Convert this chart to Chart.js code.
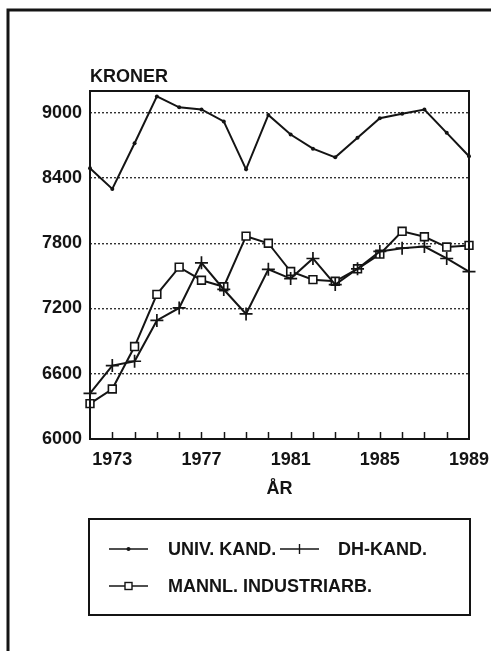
<!DOCTYPE html>
<html>
<head>
<meta charset="utf-8">
<script src="https://cdn.jsdelivr.net/npm/chart.js@4"></script>
<style>
  html, body { margin: 0; padding: 0; background: #ffffff; }
  canvas { display: block; }
</style>
</head>
<body>
<canvas id="c" width="491" height="651"></canvas>
<script>
// ---- data ----
const years = [1972, 1973, 1974, 1975, 1976, 1977, 1978, 1979, 1980, 1981, 1982, 1983, 1984, 1985, 1986, 1987, 1988, 1989];
const univKand = [8490, 8300, 8720, 9150, 9050, 9030, 8920, 8480, 8980, 8800, 8670, 8590, 8770, 8950, 8990, 9030, 8815, 8600];
const dhKand = [6420, 6675, 6715, 7090, 7205, 7620, 7375, 7150, 7560, 7475, 7660, 7420, 7565, 7725, 7755, 7770, 7660, 7540];
const mannlIndustri = [6325, 6460, 6850, 7330, 7580, 7460, 7400, 7865, 7800, 7540, 7465, 7450, 7565, 7700, 7910, 7860, 7765, 7780];
const seriesLabels = ['UNIV. KAND.', 'DH-KAND.', 'MANNL. INDUSTRIARB.'];
const yTickValues = [6000, 6600, 7200, 7800, 8400, 9000];
const xLabelYears = [1973, 1977, 1981, 1985, 1989];
const yAxisTitle = 'KRONER';
const xAxisTitle = 'ÅR';

const INK = '#141414';
const FONT = '"Liberation Sans", Arial, Helvetica, sans-serif';

function pts(vals) { return years.map((y, i) => ({ x: y, y: vals[i] })); }

const decor = {
  id: 'decor',
  beforeDraw(chart) {
    const ctx = chart.ctx;
    ctx.save();
    ctx.fillStyle = '#ffffff';
    ctx.fillRect(0, 0, chart.width, chart.height);
    ctx.restore();
  },
  afterDatasetsDraw(chart) {
    const ctx = chart.ctx;
    const a = chart.chartArea;
    const xs = chart.scales.x;
    ctx.save();
    // plot frame
    ctx.strokeStyle = INK;
    ctx.lineWidth = 2;
    ctx.strokeRect(a.left, a.top, a.right - a.left, a.bottom - a.top);
    // inner tick marks on x axis
    ctx.lineWidth = 1.5;
    years.forEach(yr => {
      if (yr === years[0] || yr === years[years.length - 1]) return;
      const px = Math.round(xs.getPixelForValue(yr)) + 0.5;
      ctx.beginPath();
      ctx.moveTo(px, a.bottom);
      ctx.lineTo(px, a.bottom - 7);
      ctx.stroke();
    });
    // axis titles
    ctx.fillStyle = INK;
    ctx.font = 'bold 18px ' + FONT;
    ctx.textAlign = 'left';
    ctx.textBaseline = 'alphabetic';
    ctx.fillText(yAxisTitle, a.left, a.top - 9);
    ctx.textAlign = 'center';
    ctx.fillText(xAxisTitle, (a.left + a.right) / 2, 494);

    // legend box
    const lx0 = a.left - 1, lx1 = a.right + 1, ly0 = 519, ly1 = 615;
    ctx.lineWidth = 2;
    ctx.strokeRect(lx0, ly0, lx1 - lx0, ly1 - ly0);
    const ds = chart.data.datasets;
    const entries = [
      { d: ds[0], x: 109, y: 549, tx: 168 },
      { d: ds[1], x: 280, y: 549, tx: 338 },
      { d: ds[2], x: 109, y: 586, tx: 168 }
    ];
    entries.forEach(e => {
      ctx.strokeStyle = INK;
      ctx.lineWidth = 1.6;
      ctx.beginPath();
      ctx.moveTo(e.x, e.y);
      ctx.lineTo(e.x + 39, e.y);
      ctx.stroke();
      const cx = e.x + 19.5;
      const style = e.d.pointStyle;
      if (style === 'circle') {
        ctx.fillStyle = INK;
        ctx.beginPath();
        ctx.arc(cx, e.y, 2, 0, Math.PI * 2);
        ctx.fill();
      } else if (style === 'cross') {
        ctx.lineWidth = 1.4;
        ctx.beginPath();
        ctx.moveTo(cx, e.y - 5);
        ctx.lineTo(cx, e.y + 5);
        ctx.stroke();
      } else if (style === 'rect') {
        ctx.fillStyle = '#ffffff';
        ctx.lineWidth = 1.4;
        ctx.fillRect(cx - 3.5, e.y - 3.5, 7, 7);
        ctx.strokeRect(cx - 3.5, e.y - 3.5, 7, 7);
      }
      ctx.fillStyle = INK;
      ctx.font = 'bold 18px ' + FONT;
      ctx.textAlign = 'left';
      ctx.textBaseline = 'middle';
      ctx.fillText(e.d.label, e.tx, e.y + 1);
    });

    // outer frame
    ctx.lineWidth = 3;
    ctx.strokeStyle = INK;
    ctx.beginPath();
    ctx.moveTo(491, 10);
    ctx.lineTo(8, 10);
    ctx.lineTo(8, 651);
    ctx.stroke();
    ctx.restore();
  }
};

new Chart(document.getElementById('c'), {
  type: 'line',
  data: {
    datasets: [
      {
        label: seriesLabels[0], data: pts(univKand),
        borderColor: INK, borderWidth: 2, tension: 0, clip: false,
        pointStyle: 'circle', pointRadius: 2, pointBackgroundColor: INK, pointBorderColor: INK, pointBorderWidth: 0
      },
      {
        label: seriesLabels[1], data: pts(dhKand),
        borderColor: INK, borderWidth: 2, tension: 0, clip: false,
        pointStyle: 'cross', pointRadius: 6.5, pointBorderColor: INK, pointBorderWidth: 1.7
      },
      {
        label: seriesLabels[2], data: pts(mannlIndustri),
        borderColor: INK, borderWidth: 2, tension: 0, clip: false,
        pointStyle: 'rect', pointRadius: 5.5, pointBackgroundColor: '#ffffff', pointBorderColor: INK, pointBorderWidth: 1.6
      }
    ]
  },
  options: {
    responsive: false,
    animation: false,
    devicePixelRatio: 1,
    layout: { padding: { left: 0, top: 91, right: 22, bottom: 0 } },
    plugins: { legend: { display: false }, tooltip: { enabled: false } },
    scales: {
      x: {
        type: 'linear', min: years[0], max: years[years.length - 1],
        afterBuildTicks: s => { s.ticks = years.map(v => ({ value: v })); },
        afterFit: s => { s.height = 212; s.paddingLeft = 0; s.paddingRight = 0; },
        grid: { display: false, drawTicks: false },
        border: { display: false },
        ticks: {
          autoSkip: false, maxRotation: 0, padding: 10,
          color: INK, font: { family: FONT, size: 18, weight: 'bold' },
          callback: v => xLabelYears.includes(v) ? String(v) : ''
        }
      },
      y: {
        type: 'linear', min: 6000, max: 9200,
        afterBuildTicks: s => { s.ticks = yTickValues.map(v => ({ value: v })); },
        afterFit: s => { s.width = 90; s.paddingTop = 0; s.paddingBottom = 0; },
        grid: { color: '#333333', lineWidth: 1.4, drawTicks: false },
        border: { display: false, dash: [2, 2] },
        ticks: {
          padding: 8, color: INK,
          font: { family: FONT, size: 18, weight: 'bold' },
          callback: v => String(v)
        }
      }
    }
  },
  plugins: [decor]
});
</script>
</body>
</html>
